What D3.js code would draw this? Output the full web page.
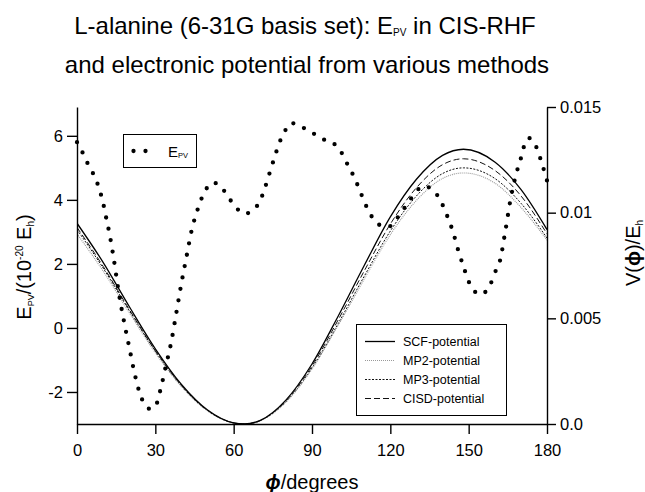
<!DOCTYPE html>
<html>
<head>
<meta charset="utf-8">
<script src="https://cdn.jsdelivr.net/npm/d3@7"></script>
<style>
  html, body { margin: 0; padding: 0; background: #fff; }
  svg { display: block; font-family: "Liberation Sans", Arial, Helvetica, sans-serif; }
</style>
</head>
<body>
<div id="chart"></div>
<script>
// phi grid (degrees) for the electronic potentials
const potPhi = [0, 10, 20, 30, 40, 50, 60, 64, 70, 80, 90, 100, 110, 120, 130, 140, 148, 160, 170, 180];
const scfPot  = [0.0095, 0.00765, 0.00556, 0.00356, 0.00187, 0.00066, 0.00005, 0, 0.00016, 0.00113, 0.00284, 0.0051, 0.0075, 0.0098, 0.01158, 0.01271, 0.0130, 0.0124, 0.0111, 0.0092];
const mp2Pot  = [0.0090, 0.00724, 0.00527, 0.00337, 0.00177, 0.00062, 0.00005, 0, 0.00015, 0.00103, 0.0026, 0.00466, 0.00686, 0.00896, 0.01058, 0.01162, 0.01188, 0.01140, 0.01025, 0.0087];
const mp3Pot  = [0.0092, 0.00738, 0.00537, 0.00344, 0.00180, 0.00063, 0.00005, 0, 0.00015, 0.00105, 0.00265, 0.00475, 0.00699, 0.00913, 0.01079, 0.01185, 0.01212, 0.01162, 0.01045, 0.0088];
const cisdPot = [0.0093, 0.00746, 0.00542, 0.00347, 0.00182, 0.00064, 0.00005, 0, 0.00015, 0.00109, 0.00274, 0.00492, 0.00724, 0.00946, 0.01118, 0.01227, 0.01255, 0.0120, 0.0108, 0.0090];

// E_PV (10^-20 Eh) vs phi
const epvPhi = [0, 2, 4, 6, 8, 10, 11.4, 12.3, 14, 16, 18, 20, 22, 24, 26, 28, 30, 32, 34, 36, 38, 40, 42, 44, 46, 48, 50, 52, 55, 58, 61, 64, 66, 68, 70, 72, 74, 76, 78, 80, 82, 84, 86, 90, 94, 98, 101, 103, 105, 107, 109, 112, 115, 117.5, 120, 122.5, 125, 128, 131, 133, 135, 137.5, 139.5, 142, 144, 146, 148, 150, 152, 154, 156, 158, 160, 162, 164, 166, 168, 170, 171.5, 173, 175.5, 178, 180];
const epvVal = [5.8, 5.5, 5.15, 4.85, 4.47, 3.9, 3.35, 3.0, 2.2, 1.1, 0.2, -0.6, -1.4, -2.03, -2.4, -2.53, -2.45, -1.92, -1.2, -0.48, 0.45, 1.4, 2.25, 3.08, 3.65, 4.1, 4.4, 4.54, 4.42, 4.08, 3.75, 3.57, 3.6, 3.72, 3.95, 4.38, 4.9, 5.42, 5.88, 6.2, 6.4, 6.36, 6.28, 6.1, 5.9, 5.78, 5.52, 5.2, 4.9, 4.55, 4.15, 3.6, 3.27, 3.17, 3.18, 3.42, 3.7, 4.05, 4.35, 4.43, 4.38, 4.2, 3.93, 3.45, 3.0, 2.42, 1.92, 1.45, 1.17, 1.05, 1.1, 1.3, 1.72, 2.1, 3.0, 4.0, 4.75, 5.3, 5.75, 5.93, 5.72, 5.15, 4.6];

const xTicks = [0, 30, 60, 90, 120, 150, 180];
const yLeftTicks = [-2, 0, 2, 4, 6];
const yLeftLabels = ["-2", "0", "2", "4", "6"];
const yRightTicks = [0, 0.005, 0.01, 0.015];
const yRightLabels = ["0.0", "0.005", "0.01", "0.015"];

const methods = [
  { name: "SCF-potential",  values: scfPot,  color: "#000", width: 1.3, dash: null },
  { name: "MP2-potential",  values: mp2Pot,  color: "#999", width: 1.1, dash: "1,1" },
  { name: "MP3-potential",  values: mp3Pot,  color: "#111", width: 1.0, dash: "2,1.5" },
  { name: "CISD-potential", values: cisdPot, color: "#111", width: 1.0, dash: "6,3" }
];

const W = 645, H = 492;
const plot = { left: 77, right: 547, top: 107, bottom: 424 };

const svg = d3.select("#chart").append("svg")
  .attr("width", W).attr("height", H)
  .attr("viewBox", `0 0 ${W} ${H}`);

const x = d3.scaleLinear().domain([0, 180]).range([plot.left, plot.right]);
const yL = d3.scaleLinear().domain([-3, 6.9]).range([plot.bottom, plot.top]);
const yR = d3.scaleLinear().domain([0, 0.015]).range([plot.bottom, plot.top]);

// title
const title = svg.append("g").attr("font-size", 24).attr("fill", "#000").attr("text-anchor", "middle");
const t1 = title.append("text").attr("x", 305).attr("y", 34);
t1.append("tspan").text("L-alanine (6-31G basis set): E");
t1.append("tspan").attr("font-size", 10).attr("dy", 2).text("PV");
t1.append("tspan").attr("dy", -2).text(" in CIS-RHF");
title.append("text").attr("x", 307).attr("y", 73).text("and electronic potential from various methods");

// clip
svg.append("clipPath").attr("id", "clip")
  .append("rect").attr("x", plot.left).attr("y", plot.top - 6)
  .attr("width", plot.right - plot.left).attr("height", plot.bottom - plot.top + 6);

const potLine = vals => d3.line()
  .x((d, i) => x(potPhi[i]))
  .y(d => yR(d))
  .curve(d3.curveMonotoneX)(vals);

const curves = svg.append("g").attr("clip-path", "url(#clip)");
methods.slice().reverse().forEach(m => {
  curves.append("path")
    .attr("d", potLine(m.values))
    .attr("fill", "none")
    .attr("stroke", m.color)
    .attr("stroke-width", m.width)
    .attr("stroke-dasharray", m.dash);
});

// E_PV dotted curve
const epvLine = d3.line()
  .x((d, i) => x(epvPhi[i]))
  .y(d => yL(d))
  .curve(d3.curveMonotoneX);

svg.append("path")
  .attr("d", epvLine(epvVal))
  .attr("fill", "none")
  .attr("stroke", "#000")
  .attr("stroke-width", 4.3)
  .attr("stroke-linecap", "round")
  .attr("stroke-dasharray", "0,11.6");

// axes
const styleAxis = g => {
  g.selectAll("path, line").attr("stroke", "#000").attr("stroke-width", 1.4);
  g.selectAll("text").attr("fill", "#000").attr("font-size", 16.5)
    .attr("font-family", "Liberation Sans, Arial, sans-serif");
};

svg.append("g")
  .attr("transform", `translate(0,${plot.bottom})`)
  .call(d3.axisBottom(x).tickValues(xTicks).tickSize(10).tickSizeOuter(0).tickPadding(10).tickFormat(d => String(d)))
  .call(styleAxis);

svg.append("g")
  .attr("transform", `translate(${plot.left},0)`)
  .call(d3.axisLeft(yL).tickValues(yLeftTicks).tickSize(10).tickSizeOuter(0).tickPadding(4)
    .tickFormat((d, i) => yLeftLabels[i]))
  .call(styleAxis);

svg.append("g")
  .attr("transform", `translate(${plot.right},0)`)
  .call(d3.axisRight(yR).tickValues(yRightTicks).tickSize(9).tickSizeOuter(0).tickPadding(4)
    .tickFormat((d, i) => yRightLabels[i]))
  .call(styleAxis);

// axis titles
const yl = svg.append("text")
  .attr("transform", "translate(31,267) rotate(-90)")
  .attr("text-anchor", "middle").attr("font-size", 20).attr("fill", "#000");
yl.append("tspan").text("E");
yl.append("tspan").attr("font-size", 9).attr("dy", 3).text("PV");
yl.append("tspan").attr("dy", -3).text("/(10");
yl.append("tspan").attr("font-size", 10).attr("dy", -8).text("-20");
yl.append("tspan").attr("dy", 8).text(" E");
yl.append("tspan").attr("font-size", 10).attr("dy", 3).text("h");
yl.append("tspan").attr("dy", -3).text(")");

const yr = svg.append("text")
  .attr("transform", "translate(640,253) rotate(-90)")
  .attr("text-anchor", "middle").attr("font-size", 20).attr("fill", "#000");
yr.append("tspan").text("V(");
yr.append("tspan").attr("font-weight", "bold").text("\u03D5");
yr.append("tspan").text(")/E");
yr.append("tspan").attr("font-size", 10).attr("dy", 3).text("h");

const xl = svg.append("text")
  .attr("x", 312).attr("y", 489)
  .attr("text-anchor", "middle").attr("font-size", 20).attr("fill", "#000");
xl.append("tspan").attr("font-style", "italic").attr("font-weight", "bold").text("\u03D5");
xl.append("tspan").text("/degrees");

// E_PV legend
const leg1 = svg.append("g");
leg1.append("rect").attr("x", 123.5).attr("y", 134.5).attr("width", 73).attr("height", 33)
  .attr("fill", "#fff").attr("stroke", "#000").attr("stroke-width", 1);
leg1.append("line").attr("x1", 133.5).attr("x2", 157.5).attr("y1", 151).attr("y2", 151)
  .attr("stroke", "#000").attr("stroke-width", 4.3).attr("stroke-linecap", "round")
  .attr("stroke-dasharray", "0,12");
const l1t = leg1.append("text").attr("x", 168).attr("y", 157).attr("font-size", 15).attr("fill", "#000");
l1t.append("tspan").text("E");
l1t.append("tspan").attr("font-size", 7.5).attr("dy", 1).text("PV");

// potential legend
const leg2 = svg.append("g");
leg2.append("rect").attr("x", 356.5).attr("y", 324.5).attr("width", 150).attr("height", 91)
  .attr("fill", "#fff").attr("stroke", "#000").attr("stroke-width", 1);
methods.forEach((m, i) => {
  const yy = 341.5 + i * 19;
  leg2.append("line").attr("x1", 365).attr("x2", 395).attr("y1", yy).attr("y2", yy)
    .attr("stroke", m.color).attr("stroke-width", m.width).attr("stroke-dasharray", m.dash);
  leg2.append("text").attr("x", 403).attr("y", yy).attr("dy", "0.36em")
    .attr("font-size", 12.5).attr("fill", "#000").text(m.name);
});
</script>
</body>
</html>
